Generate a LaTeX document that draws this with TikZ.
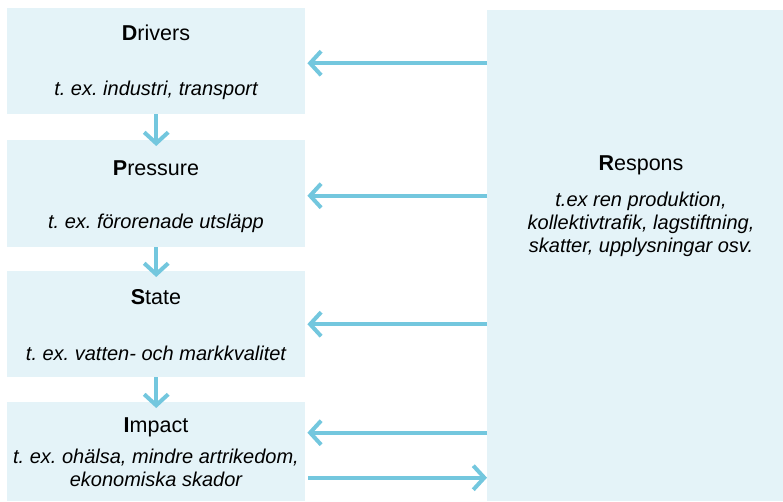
\documentclass[tikz,border=0pt]{standalone}
\usepackage{fontspec}
\setmainfont{Liberation Sans}
\frenchspacing
\usetikzlibrary{arrows.meta}
\definecolor{boxblue}{RGB}{228,243,248}
\definecolor{arrowblue}{RGB}{115,199,222}

\begin{document}
\begin{tikzpicture}[x=1pt,y=-1pt,
    box/.style={fill=boxblue,inner sep=0pt,anchor=north west},
    head/.style={font=\fontsize{21.5}{25}\selectfont},
    sub/.style={font=\fontsize{20}{23}\selectfont\itshape,align=center},
    arr/.style={arrowblue,line width=4pt,-{Straight Barb[length=11pt,width=24pt]}}]
    \useasboundingbox (0,0) rectangle (783,501);

    \node[box,minimum width=298pt,minimum height=106pt] (D) at (7,8) {};
    \node[box,minimum width=298pt,minimum height=107pt] (P) at (7,140) {};
    \node[box,minimum width=298pt,minimum height=106pt] (S) at (7,271) {};
    \node[box,minimum width=298pt,minimum height=99pt] (I) at (7,402) {};
    \node[box,minimum width=296pt,minimum height=491pt] (R) at (487,10) {};

    \node[head] (Dt) at (156,33) {\textbf{D}rivers};
    \node[sub] (Ds) at (156,90) {t. ex. industri, transport};
    \node[head] (Pt) at (156,168) {\textbf{P}ressure};
    \node[sub] (Ps) at (156,223) {t. ex. förorenade utsläpp};
    \node[head] (St) at (156,297) {\textbf{S}tate};
    \node[sub] (Ss) at (156,353) {t. ex. vatten- och markkvalitet};
    \node[head] (It) at (156,427) {\textbf{I}mpact};
    \node[sub] (Is) at (156,468) {t. ex. ohälsa, mindre artrikedom,\\ekonomiska skador};
    \node[head] (Rt) at (641,165) {\textbf{R}espons};
    \node[sub] (Rs) at (641,224) {t.ex ren produktion,\\kollektivtrafik, lagstiftning,\\skatter, upplysningar osv.};

    \path[arr] (D.south) edge ([yshift=-6pt]P.north);
    \path[arr] (P.south) edge ([yshift=-6pt]S.north);
    \path[arr] (S.south) edge ([yshift=-6pt]I.north);

    \path[arr,shorten >=2pt] ([yshift=-2pt]R.west |- D.east) edge ([yshift=-2pt]D.east);
    \path[arr,shorten >=2pt] ([yshift=-2pt]R.west |- P.east) edge ([yshift=-2pt]P.east);
    \path[arr,shorten >=2pt] (R.west |- S.east) edge (S.east);
    \path[arr,shorten >=2pt] ([yshift=19pt]R.west |- I.east) edge ([yshift=19pt]I.east);
    \path[arr,shorten <=3pt] ([yshift=-26pt]I.east) edge ([yshift=-26pt]R.west |- I.east);

\end{tikzpicture}
\end{document}
